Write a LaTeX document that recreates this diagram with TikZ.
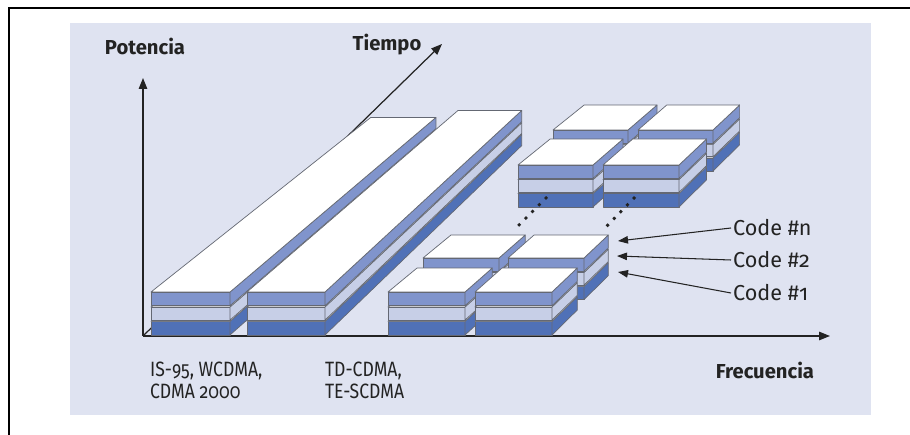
\documentclass[tikz,border=0pt]{standalone}
\usepackage{fontspec}
\setmainfont{Fira Sans}[Numbers=OldStyle]
\usetikzlibrary{arrows.meta, calc}

\definecolor{panelbg}{RGB}{223,227,241}
\definecolor{layerdark}{RGB}{80,113,183}
\definecolor{layermid}{RGB}{128,148,204}
\definecolor{layerlight}{RGB}{199,207,231}
\definecolor{edgegray}{RGB}{100,104,115}
\definecolor{inkgray}{RGB}{35,35,35}

% one slice of a stack: front face, right side and top, the last two run towards (vp)
\newcommand{\slice}[6]{%
  \filldraw[fill=#6, draw=edgegray, line width=0.4pt, line join=round]
    (#1,#3) rectangle (#2,#4);
  \filldraw[fill=#6, draw=edgegray, line width=0.4pt, line join=round]
    (#2,#3) -- (#2,#4) -- ($(#2,#4)!#5!(vp)$) -- ($(#2,#3)!#5!(vp)$) -- cycle;
  \filldraw[fill=white, draw=edgegray, line width=0.4pt, line join=round]
    (#1,#4) -- (#2,#4) -- ($(#2,#4)!#5!(vp)$) -- ($(#1,#4)!#5!(vp)$) -- cycle;
}
% three code slices: left x, right x, bottom y, height, depth
\newcommand{\codestack}[5]{%
  \pgfmathsetmacro{\stackh}{#4/3}
  \slice{#1}{#2}{#3}{#3-\stackh+0.6}{#5}{layerdark}
  \slice{#1}{#2}{#3-\stackh-0.6}{#3-2*\stackh+0.6}{#5}{layerlight}
  \slice{#1}{#2}{#3-2*\stackh-0.6}{#3-#4}{#5}{layermid}
}

\begin{document}
\begin{tikzpicture}[
    x=0.02cm, y=-0.02cm,
    lab/.style={font=\fontsize{11.5}{12.5}\selectfont, text=inkgray, inner sep=1pt},
    codelab/.style={lab, font=\fontsize{12.3}{13}\selectfont},
    syslab/.style={lab, align=left,
        font=\fontsize{11.8}{12.5}\selectfont\addfontfeatures{FakeStretch=0.85}},
    axlab/.style={lab, font=\fontsize{11.5}{12.5}\selectfont\bfseries},
    axis/.style={-{Triangle[length=2.2mm, width=1.7mm]}, line width=0.7pt, inkgray},
    pointer/.style={-{Triangle[length=2mm, width=1.5mm]}, line width=0.6pt, inkgray},
    dots/.style={line width=1.6pt, dash pattern=on 1.6pt off 3.8pt, inkgray}
]
\useasboundingbox (0,0) rectangle (910,435);
\draw[line width=1.3pt] (9,435) -- (9,8) -- (910,8);
\fill[panelbg] (70,23) rectangle (871,415);

% axes
\coordinate (org) at (143,336);
\coordinate (ptop) at (143,78);
\coordinate (ftop) at (830,336);
\coordinate (ttop) at (442,44);
\draw[axis] (org) -- (ttop);
\draw[axis] (org) -- (ptop);
\draw[axis] (org) -- (ftop);
\node[axlab] (pot) at (145,46) {Potencia};
\node[axlab] (tie) at (387,45) {Tiempo};
\node[axlab] (fre) at (765,370) {Frecuencia};

% long slabs
\coordinate (vp) at (1400,-700);
\codestack{151}{230}{335}{43}{0.176}
\codestack{247}{325}{335}{43}{0.183}

% small blocks, back to front
\coordinate (vp) at (1650,-750);
\codestack{553}{628}{171}{41}{0.0284}
\codestack{638}{713}{171}{41}{0.0284}
\codestack{518}{593}{207}{42}{0.0284}
\codestack{603}{679}{207}{42}{0.0284}
\codestack{423}{499}{299.6}{41.6}{0.0228}
\codestack{508}{584}{299.6}{41.6}{0.0228}
\codestack{388}{465}{335}{43}{0.023}
\codestack{475}{552}{335}{43}{0.023}

% repeated codes in between
\coordinate (d1a) at (547,197);
\coordinate (d1b) at (517,227);
\coordinate (d2a) at (635,197);
\coordinate (d2b) at (606,227);
\draw[dots] (d1a) -- (d1b);
\draw[dots] (d2a) -- (d2b);

% code labels
\node[codelab, anchor=west] (cn) at (731,228) {Code \#n};
\node[codelab, anchor=west] (c2) at (731,260) {Code \#2};
\node[codelab, anchor=west] (c1) at (731,293) {Code \#1};
\coordinate (tn) at (618,241);
\coordinate (t2) at (617,256);
\coordinate (t1) at (618,272);
\draw[pointer] (cn.west) -- (tn);
\draw[pointer] (c2.west) -- (t2);
\draw[pointer] (c1.west) -- (t1);

\node[syslab, anchor=west] (cdma) at (148,380.5) {IS-95, WCDMA,\\CDMA 2000};
\node[syslab, anchor=west] (tdcdma) at (323,380.5) {TD-CDMA,\\TE-SCDMA};
\end{tikzpicture}
\end{document}
